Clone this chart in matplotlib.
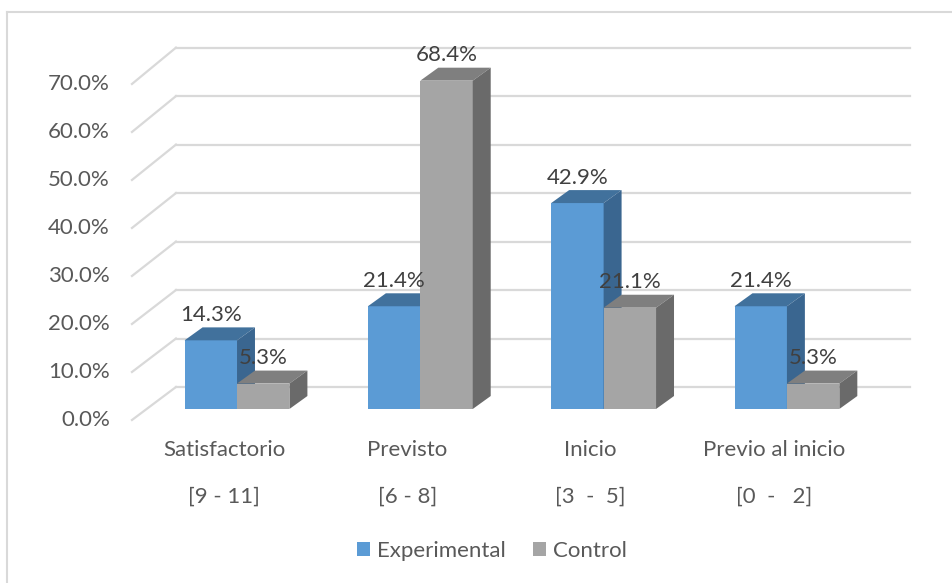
import matplotlib
matplotlib.use("Agg")
import matplotlib.pyplot as plt
from matplotlib.patches import Polygon, Patch

categorias = ["Satisfactorio", "Previsto", "Inicio", "Previo al inicio"]
rangos = ["[9 - 11]", "[6 - 8]", "[3  -  5]", "[0  -   2]"]
experimental = [14.3, 21.4, 42.9, 21.4]
control = [5.3, 68.4, 21.1, 5.3]
ticks = [0, 10, 20, 30, 40, 50, 60, 70]

plt.rcParams['font.family'] = ['Lato', 'DejaVu Sans']
txt = '#595959'
grid_c = '#d9d9d9'
fs = 16

# faux 3d geometry (x in category units, y in percent)
w = 0.286          # bar width
ddx, ddy = 0.098, 2.7   # bar depth offset
wall_x0, wall_x1 = -0.333, 3.672
wall_y0 = 4.58
front_x, front_y0 = -0.573, -2.29

fig = plt.figure(figsize=(9.53, 5.83), dpi=100)
ax = fig.add_axes([0, 0, 1, 1])
ax.set_xlim(-1.293, 3.906)
ax.set_ylim(-36.25, 85.2)
ax.axis('off')

# chart border (only top / left visible)
ax.plot([-1.255, -1.255], [-40, 82.7], color=grid_c, lw=1.5, zorder=0)
ax.plot([-1.255, 4], [82.7, 82.7], color=grid_c, lw=1.5, zorder=0)

for g in ticks:
    yb = wall_y0 + g * 1.01
    yf = front_y0 + g
    ax.plot([wall_x0, wall_x1], [yb, yb], color=grid_c, lw=1.6, zorder=1)
    ax.plot([front_x, wall_x0], [yf, yb], color=grid_c, lw=1.6, zorder=1)
    ax.text(-0.693, yf, f"{g:.1f}%", ha='right', va='center',
            fontsize=fs, color=txt)


def bar3d(x0, v, front, top, side):
    ax.bar(x0, v, width=w, align='edge', color=front, zorder=3)
    ax.add_patch(Polygon([(x0, v), (x0 + w, v), (x0 + w + ddx, v + ddy),
                          (x0 + ddx, v + ddy)], closed=True,
                         facecolor=top, edgecolor='none', zorder=3))
    ax.add_patch(Polygon([(x0 + w, 0), (x0 + w + ddx, ddy),
                          (x0 + w + ddx, v + ddy), (x0 + w, v)], closed=True,
                         facecolor=side, edgecolor='none', zorder=3))


for i, cat in enumerate(categorias):
    bar3d(i - w, experimental[i], '#5B9BD5', '#41719C', '#3A6690')
    bar3d(i, control[i], '#A5A5A5', '#7F7F7F', '#6A6A6A')
    ax.text(i - w / 2, experimental[i] + ddy + 0.5, f"{experimental[i]:.1f}%",
            ha='center', va='bottom', fontsize=fs, color='#404040', zorder=5)
    ax.text(i + w / 2, control[i] + ddy + 0.5, f"{control[i]:.1f}%",
            ha='center', va='bottom', fontsize=fs, color='#404040', zorder=5)
    ax.text(i - 0.071, -8.54, cat, ha='center', va='center',
            fontsize=fs, color=txt)
    ax.text(i - 0.071, -18.3, rangos[i], ha='center', va='center',
            fontsize=fs, color=txt)

handles = [Patch(facecolor='#5B9BD5', label='Experimental'),
           Patch(facecolor='#A5A5A5', label='Control')]
fig.legend(handles=handles, loc='center', bbox_to_anchor=(0.516, 0.055),
           ncol=2, frameon=False, fontsize=fs, labelcolor=txt,
           handlelength=0.6, handleheight=0.6, handletextpad=0.3,
           columnspacing=1.2)

fig.savefig('out.png', dpi=100)
